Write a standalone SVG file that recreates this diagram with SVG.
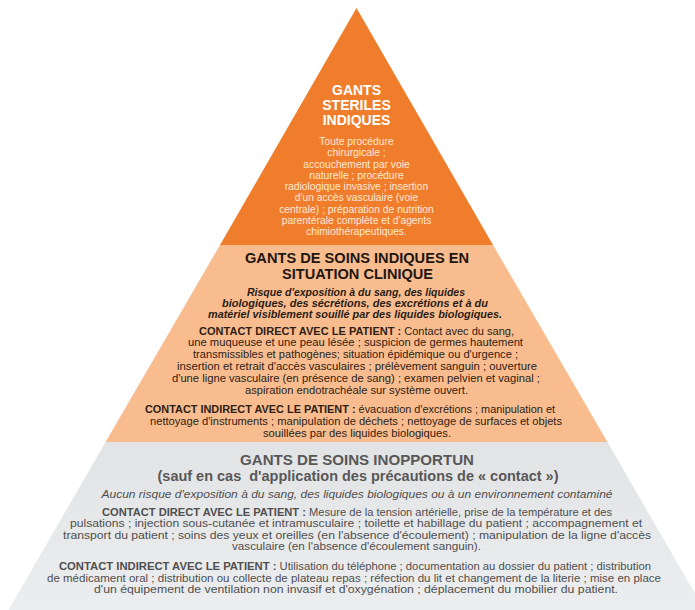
<svg xmlns="http://www.w3.org/2000/svg" width="695" height="610" viewBox="0 0 695 610">
<defs>
<linearGradient id="gGrey" x1="0" y1="0" x2="0" y2="1">
<stop offset="0" stop-color="#E2E3E4"/>
<stop offset="1" stop-color="#ECEDEE"/>
</linearGradient>
</defs>
<style>
text{font-family:"Liberation Sans",Arial,"DejaVu Sans",sans-serif;text-anchor:middle}
.t1h{font-size:14px;font-weight:bold;fill:#FFFFFF}
.t1b{font-size:10.3px;fill:#FFE9D6}
.t2h{font-size:14.5px;font-weight:bold;fill:#1E1611}
.t2i{font-size:10.3px;font-weight:bold;font-style:italic;fill:#2A1C14}
.t2b{font-size:10px;fill:#2E1E15}
.t3h{font-size:15px;font-weight:bold;fill:#585858}
.t3i{font-size:10px;font-style:italic;fill:#4F4F4F}
.t3b{font-size:10px;fill:#4F4F4F}
.b{font-weight:bold}
</style>
<rect width="695" height="610" fill="#FFFFFF"/>

<g id="tier-bottom">
<polygon points="105.6,442 607.4,442 704.5,610 8.5,610" fill="url(#gGrey)"/>
<text class="t3h" x="357" y="464.5" textLength="234" lengthAdjust="spacingAndGlyphs">GANTS DE SOINS INOPPORTUN</text>
<text class="t3h" x="358" y="480.5" textLength="401" lengthAdjust="spacingAndGlyphs">(sauf en cas&#160; d'application des précautions de « contact »)</text>
<text class="t3i" x="357" y="498" textLength="511" lengthAdjust="spacingAndGlyphs">Aucun risque d'exposition à du sang, des liquides biologiques ou à un environnement contaminé</text>
<text class="t3b" x="357" y="515.5" textLength="510" lengthAdjust="spacingAndGlyphs"><tspan class="b">CONTACT DIRECT AVEC LE PATIENT :</tspan> Mesure de la tension artérielle, prise de la température et des</text>
<text class="t3b" x="356" y="527" textLength="572" lengthAdjust="spacingAndGlyphs">pulsations ; injection sous-cutanée et intramusculaire ; toilette et habillage du patient ; accompagnement et</text>
<text class="t3b" x="357" y="538.5" textLength="588" lengthAdjust="spacingAndGlyphs">transport du patient ; soins des yeux et oreilles (en l'absence d'écoulement) ; manipulation de la ligne d'accès</text>
<text class="t3b" x="356.5" y="550" textLength="249" lengthAdjust="spacingAndGlyphs">vasculaire (en l'absence d'écoulement sanguin).</text>
<text class="t3b" x="355" y="570" textLength="592" lengthAdjust="spacingAndGlyphs"><tspan class="b">CONTACT INDIRECT AVEC LE PATIENT :</tspan> Utilisation du téléphone ; documentation au dossier du patient ; distribution</text>
<text class="t3b" x="354" y="581.5" textLength="614" lengthAdjust="spacingAndGlyphs">de médicament oral ; distribution ou collecte de plateau repas ; réfection du lit et changement de la literie ; mise en place</text>
<text class="t3b" x="356" y="592.5" textLength="524" lengthAdjust="spacingAndGlyphs">d'un équipement de ventilation non invasif et d'oxygénation ; déplacement du mobilier du patient.</text>
</g>

<g id="tier-middle">
<polygon points="220,245 493,245 607.4,442 105.6,442" fill="#F9BC8F"/>
<text class="t2h" x="357" y="263" textLength="224" lengthAdjust="spacingAndGlyphs">GANTS DE SOINS INDIQUES EN</text>
<text class="t2h" x="357.5" y="278.5" textLength="151" lengthAdjust="spacingAndGlyphs">SITUATION CLINIQUE</text>
<text class="t2i" x="356" y="296" textLength="218" lengthAdjust="spacingAndGlyphs">Risque d'exposition à du sang, des liquides</text>
<text class="t2i" x="355" y="307" textLength="266" lengthAdjust="spacingAndGlyphs">biologiques, des sécrétions, des excrétions et à du</text>
<text class="t2i" x="355" y="318" textLength="294" lengthAdjust="spacingAndGlyphs">matériel visiblement souillé par des liquides biologiques.</text>
<text class="t2b" x="356.5" y="334.5" textLength="315" lengthAdjust="spacingAndGlyphs"><tspan class="b">CONTACT DIRECT AVEC LE PATIENT :</tspan> Contact avec du sang,</text>
<text class="t2b" x="355.5" y="346.3" textLength="335" lengthAdjust="spacingAndGlyphs">une muqueuse et une peau lésée ; suspicion de germes hautement</text>
<text class="t2b" x="355.5" y="358.1" textLength="325" lengthAdjust="spacingAndGlyphs">transmissibles et pathogènes; situation épidémique ou d'urgence ;</text>
<text class="t2b" x="357" y="369.9" textLength="360" lengthAdjust="spacingAndGlyphs">insertion et retrait d'accès vasculaires ; prélèvement sanguin ; ouverture</text>
<text class="t2b" x="356" y="381.7" textLength="368" lengthAdjust="spacingAndGlyphs">d'une ligne vasculaire (en présence de sang) ; examen pelvien et vaginal ;</text>
<text class="t2b" x="356.5" y="393.5" textLength="223" lengthAdjust="spacingAndGlyphs">aspiration endotrachéale sur système ouvert.</text>
<text class="t2b" x="350" y="412.5" textLength="410" lengthAdjust="spacingAndGlyphs"><tspan class="b">CONTACT INDIRECT AVEC LE PATIENT :</tspan> évacuation d'excrétions ; manipulation et</text>
<text class="t2b" x="356" y="424.5" textLength="412" lengthAdjust="spacingAndGlyphs">nettoyage d'instruments ; manipulation de déchets ; nettoyage de surfaces et objets</text>
<text class="t2b" x="357" y="436.5" textLength="188" lengthAdjust="spacingAndGlyphs">souillées par des liquides biologiques.</text>
</g>

<g id="tier-top">
<polygon points="356.5,8 493,245 220,245" fill="#F07D2B"/>
<text class="t1h" x="356.5" y="95">GANTS</text>
<text class="t1h" x="356.5" y="110">STERILES</text>
<text class="t1h" x="356.5" y="125">INDIQUES</text>
<text class="t1b" x="356.5" y="145">Toute procédure</text>
<text class="t1b" x="356.5" y="156.3">chirurgicale ;</text>
<text class="t1b" x="356.5" y="167.5">accouchement par voie</text>
<text class="t1b" x="356.5" y="178.8">naturelle ; procédure</text>
<text class="t1b" x="356.5" y="190">radiologique invasive ; insertion</text>
<text class="t1b" x="356.5" y="201.3">d'un accès vasculaire (voie</text>
<text class="t1b" x="356.5" y="212.5">centrale) ; préparation de nutrition</text>
<text class="t1b" x="356.5" y="223.8">parentérale complète et d'agents</text>
<text class="t1b" x="356.5" y="235">chimiothérapeutiques.</text>
</g>
</svg>
